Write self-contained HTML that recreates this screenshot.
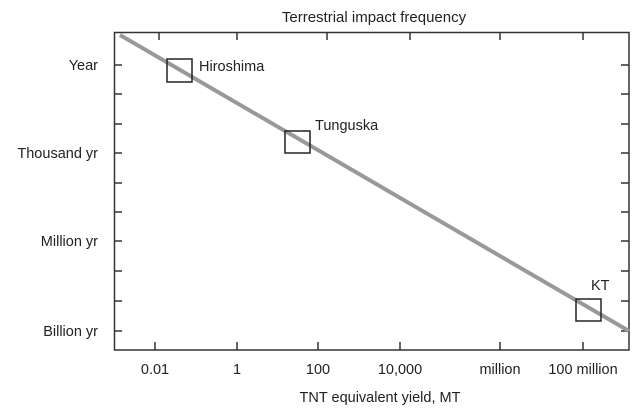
<!DOCTYPE html>
<html><head><style>body{margin:0;background:#fff}</style></head><body>
<svg width="640" height="412" xmlns="http://www.w3.org/2000/svg" font-family="Liberation Sans, sans-serif" font-size="14.5" fill="#222">
<text x="374" y="22" text-anchor="middle" font-size="15">Terrestrial impact frequency</text>
<rect x="114.5" y="32.5" width="514.5" height="317.5" fill="none" stroke="#333" stroke-width="1.5"/>
<g stroke="#333" stroke-width="1.5">
<line x1="114" y1="65" x2="122" y2="65"/><line x1="114" y1="94" x2="122" y2="94"/><line x1="114" y1="124" x2="122" y2="124"/><line x1="114" y1="153" x2="122" y2="153"/><line x1="114" y1="183" x2="122" y2="183"/><line x1="114" y1="212" x2="122" y2="212"/><line x1="114" y1="241" x2="122" y2="241"/><line x1="114" y1="271" x2="122" y2="271"/><line x1="114" y1="301" x2="122" y2="301"/><line x1="114" y1="331" x2="122" y2="331"/>
<line x1="629" y1="65" x2="621" y2="65"/><line x1="629" y1="94" x2="621" y2="94"/><line x1="629" y1="124" x2="621" y2="124"/><line x1="629" y1="153" x2="621" y2="153"/><line x1="629" y1="183" x2="621" y2="183"/><line x1="629" y1="212" x2="621" y2="212"/><line x1="629" y1="241" x2="621" y2="241"/><line x1="629" y1="271" x2="621" y2="271"/><line x1="629" y1="301" x2="621" y2="301"/><line x1="629" y1="331" x2="621" y2="331"/>
<line x1="155" y1="350" x2="155" y2="342"/><line x1="237" y1="350" x2="237" y2="342"/><line x1="318" y1="350" x2="318" y2="342"/><line x1="400" y1="350" x2="400" y2="342"/><line x1="500" y1="350" x2="500" y2="342"/><line x1="583" y1="350" x2="583" y2="342"/>
<line x1="159" y1="32" x2="159" y2="40"/><line x1="237" y1="32" x2="237" y2="40"/><line x1="327" y1="32" x2="327" y2="40"/><line x1="410" y1="32" x2="410" y2="40"/><line x1="500" y1="32" x2="500" y2="40"/><line x1="583" y1="32" x2="583" y2="40"/>
</g>
<line x1="120" y1="35" x2="629" y2="331" stroke="#999" stroke-width="4"/>
<g fill="none" stroke="#222" stroke-width="1.5">
<rect x="167" y="59" width="25" height="23"/><rect x="285" y="131" width="25" height="22"/><rect x="576" y="299" width="25" height="22"/>
</g>
<text x="199" y="71">Hiroshima</text><text x="315" y="130">Tunguska</text><text x="591" y="290">KT</text>
<g text-anchor="end">
<text x="98" y="70">Year</text><text x="98" y="158">Thousand yr</text><text x="98" y="246">Million yr</text><text x="98" y="336">Billion yr</text>
</g>
<g text-anchor="middle">
<text x="155" y="374">0.01</text><text x="237" y="374">1</text><text x="318" y="374">100</text><text x="400" y="374">10,000</text><text x="500" y="374">million</text><text x="583" y="374">100 million</text>
<text x="380" y="402">TNT equivalent yield, MT</text>
</g>
</svg>
</body></html>
